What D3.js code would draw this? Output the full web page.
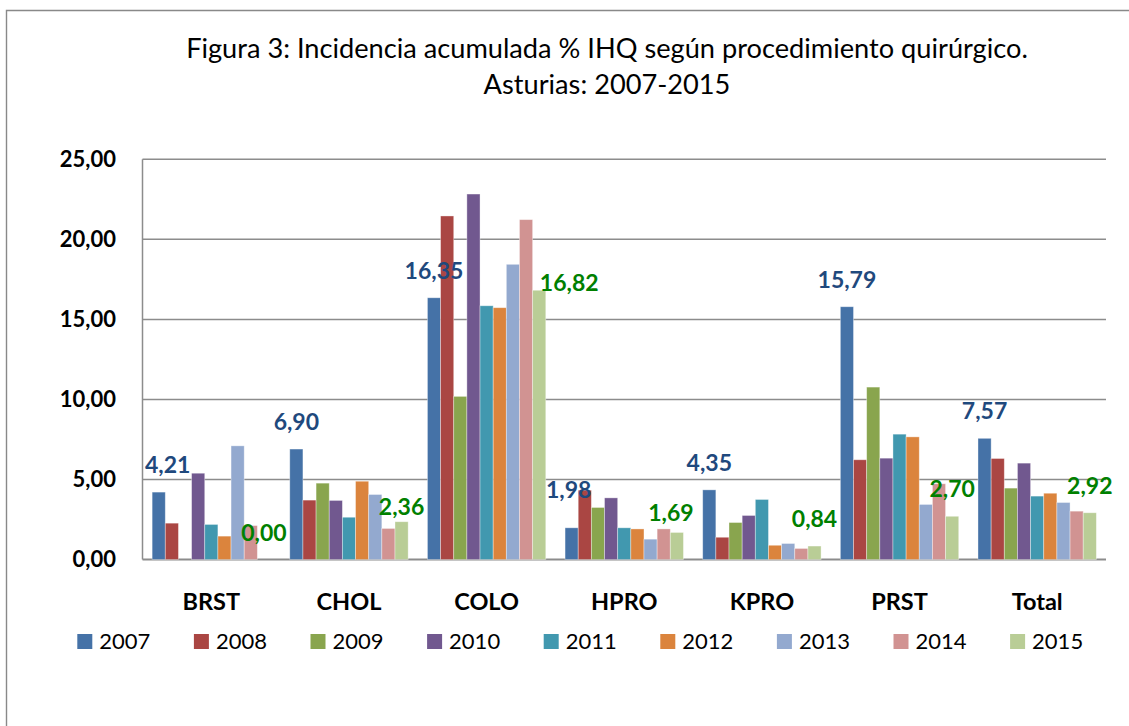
<!DOCTYPE html>
<html>
<head>
<meta charset="utf-8">
<script src="https://cdn.jsdelivr.net/npm/d3@7"></script>
<style>
  body { margin: 0; background: #fff; }
  svg { display: block; font-family: Lato, Carlito, Calibri, sans-serif; }
</style>
</head>
<body>
<div id="chart"></div>
<script>
// chart values
const categories = ["BRST", "CHOL", "COLO", "HPRO", "KPRO", "PRST", "Total"];
const years = ["2007", "2008", "2009", "2010", "2011", "2012", "2013", "2014", "2015"];

const v2007 = [4.21, 6.90, 16.35, 1.98, 4.35, 15.79, 7.57];
const v2008 = [2.27, 3.71, 21.46, 4.33, 1.39, 6.23, 6.31];
const v2009 = [0.00, 4.77, 10.19, 3.25, 2.31, 10.77, 4.46];
const v2010 = [5.39, 3.69, 22.83, 3.85, 2.75, 6.33, 6.02];
const v2011 = [2.19, 2.64, 15.85, 1.98, 3.75, 7.83, 3.96];
const v2012 = [1.46, 4.89, 15.73, 1.91, 0.89, 7.66, 4.14];
const v2013 = [7.10, 4.06, 18.44, 1.27, 1.00, 3.44, 3.56];
const v2014 = [2.12, 1.94, 21.23, 1.91, 0.69, 4.73, 3.02];
const v2015 = [0.00, 2.36, 16.82, 1.69, 0.84, 2.70, 2.92];

const yTicks = [0, 5, 10, 15, 20, 25];
const labelledYears = ["2007", "2015"];

const titleLines = [
    "Figura 3: Incidencia acumulada % IHQ según procedimiento quirúrgico.",
    "Asturias: 2007-2015"
];

const seriesValues = [v2007, v2008, v2009, v2010, v2011, v2012, v2013, v2014, v2015];

// styling
const colors = ["#4572A7", "#AA4643", "#89A54E", "#71588F", "#4198AF",
                "#DB843D", "#93A9CF", "#D19392", "#B9CD96"];
const labelColors = { "2007": "#1F497D", "2015": "#008000" };

// a few data labels were dragged by hand in the original
const labelNudge = {
    "COLO-2015": [30, 20],
    "HPRO-2007": [-3, -11],
    "HPRO-2015": [-6, 8],
    "CHOL-2015": [0, 12]
};

const W = 1129, H = 726;
const plot = { left: 142.5, right: 1106, top: 159.3, bottom: 559.5 };

const fmt = v => d3.format(".2f")(v).replace(".", ",");

const svg = d3.select("#chart").append("svg")
    .attr("width", W)
    .attr("height", H);

svg.append("rect").attr("width", W).attr("height", H).attr("fill", "#fff");

// outer chart border (only top and left show inside the picture)
svg.append("path")
    .attr("d", `M6.5,${H + 5} V10.5 H${W + 5}`)
    .attr("fill", "none")
    .attr("stroke", "#898989")
    .attr("stroke-width", 1.4);

// title
svg.append("g").selectAll("text")
    .data(titleLines)
    .join("text")
    .attr("x", 607)
    .attr("y", (d, i) => 58 + i * 36)
    .attr("text-anchor", "middle")
    .attr("font-size", 27.2)
    .attr("fill", "#000")
    .text(d => d);

const x0 = d3.scaleBand()
    .domain(categories)
    .range([plot.left, plot.right]);

const x1 = d3.scaleBand()
    .domain(years)
    .range([x0.bandwidth() * 0.07, x0.bandwidth() * 0.93]);

const y = d3.scaleLinear()
    .domain([0, 25])
    .range([plot.bottom, plot.top]);

// gridlines
svg.append("g").selectAll("line")
    .data(yTicks)
    .join("line")
    .attr("x1", plot.left)
    .attr("x2", plot.right)
    .attr("y1", d => y(d))
    .attr("y2", d => y(d))
    .attr("stroke", "#8c8c8c")
    .attr("stroke-width", d => d === 0 ? 2 : 1.5);

// y axis line
svg.append("line")
    .attr("x1", plot.left).attr("x2", plot.left)
    .attr("y1", plot.top).attr("y2", plot.bottom)
    .attr("stroke", "#8c8c8c")
    .attr("stroke-width", 1.5);

// y tick labels
svg.append("g").selectAll("text")
    .data(yTicks)
    .join("text")
    .attr("x", 116)
    .attr("y", d => y(d) + 7.5)
    .attr("text-anchor", "end")
    .attr("font-size", 22)
    .attr("font-weight", "bold")
    .attr("fill", "#000")
    .text(d => fmt(d));

// bars
const rows = [];
categories.forEach((cat, ci) => {
    years.forEach((yr, yi) => {
        rows.push({ cat, yr, yi, value: seriesValues[yi][ci] });
    });
});

svg.append("g").selectAll("rect")
    .data(rows.filter(d => d.value > 0))
    .join("rect")
    .attr("x", d => x0(d.cat) + x1(d.yr))
    .attr("y", d => y(d.value))
    .attr("width", x1.bandwidth())
    .attr("height", d => y(0) - y(d.value))
    .attr("fill", d => colors[d.yi])
    .attr("stroke", "#fff")
    .attr("stroke-opacity", 0.45)
    .attr("stroke-width", 0.8);

// data labels for first and last year
const labelRows = rows.filter(d => labelledYears.includes(d.yr));
const labels = svg.append("g").selectAll("text")
    .data(labelRows)
    .join("text")
    .attr("text-anchor", "middle")
    .attr("font-size", 23)
    .attr("font-weight", "bold")
    .attr("fill", d => labelColors[d.yr])
    .text(d => fmt(d.value));

labels.each(function (d) {
    const el = d3.select(this);
    const w = this.getComputedTextLength();
    let cx = x0(d.cat) + x1(d.yr) + x1.bandwidth() / 2;
    let by = y(d.value) - 19;
    // keep labels inside the plot area
    if (cx - w / 2 < plot.left + 2.5) cx = plot.left + 2.5 + w / 2;
    const n = labelNudge[d.cat + "-" + d.yr];
    if (n) { cx += n[0]; by += n[1]; }
    el.attr("x", cx).attr("y", by);
});

// category labels
svg.append("g").selectAll("text")
    .data(categories)
    .join("text")
    .attr("x", d => x0(d) + x0.bandwidth() / 2)
    .attr("y", 610)
    .attr("text-anchor", "middle")
    .attr("font-size", 23.5)
    .attr("font-weight", "bold")
    .attr("fill", "#000")
    .text(d => d);

// legend
const legend = svg.append("g").selectAll("g")
    .data(years)
    .join("g")
    .attr("transform", (d, i) => `translate(${77.3 + i * 116.6}, 634)`);

legend.append("rect")
    .attr("width", 15)
    .attr("height", 15)
    .attr("fill", (d, i) => colors[i]);

legend.append("text")
    .attr("x", 22)
    .attr("y", 15.3)
    .attr("font-size", 22)
    .attr("fill", "#000")
    .text(d => d);
</script>
</body>
</html>
